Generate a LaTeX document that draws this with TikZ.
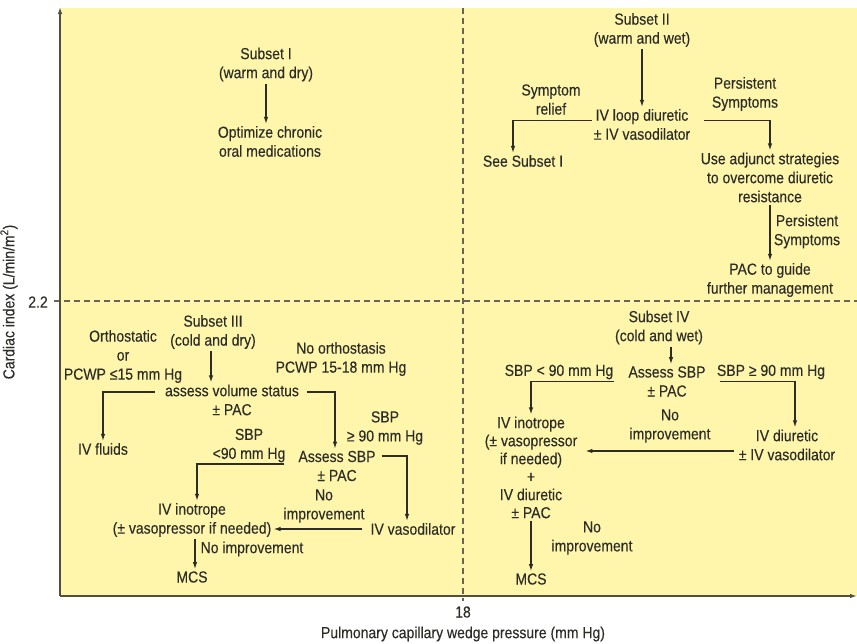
\documentclass[tikz,border=0pt]{standalone}
\usepackage{fontspec}
\setmainfont{Liberation Sans}[FakeStretch=0.875,FakeBold=0.25]
\usetikzlibrary{arrows.meta}
\definecolor{bgyellow}{RGB}{255,246,172}
\definecolor{ink}{RGB}{45,45,40}
\definecolor{axisc}{RGB}{80,80,60}
\definecolor{dashc}{RGB}{105,100,85}
\begin{document}
\begin{tikzpicture}[x=1pt,y=-1pt,
  txt/.style={align=center, inner sep=2pt, text=ink, font=\fontsize{16}{19}\selectfont},
  tight/.style={txt, font=\fontsize{16}{18}\selectfont},
  arr/.style={draw=ink, line width=1.2pt, -{Latex[length=7pt,width=4.5pt]}},
  axisline/.style={draw=axisc, line width=1.3pt, -{Latex[length=7pt,width=4.5pt]}},
  divider/.style={draw=dashc, line width=1.2pt, dash pattern=on 6pt off 4pt}]
\useasboundingbox (0,0) rectangle (857,643);
\fill[bgyellow] (60,8) rectangle (857,596);
% quadrant dividers
\draw[divider] (463,8) -- (463,601);
\draw[divider] (54,301) -- (857,301);
% axes
\draw[axisline] (60,596) -- (60,7);
\draw[axisline] (60,596) -- (857,596);
\node[txt] (tick22) at (38,302) {2.2};
\node[txt] (tick18) at (463,612) {18};
\node[txt, rotate=90] (ylab) at (9,302) {Cardiac index (L/min/m\textsuperscript{2})};
\node[txt] (xlab) at (463,634) {Pulmonary capillary wedge pressure (mm Hg)};

% Subset I
\node[txt] (s1) at (266,64.5) {Subset I\\(warm and dry)};
\node[txt] (o1) at (270,141.5) {Optimize chronic\\oral medications};
\draw[arr] (s1.south) -- (s1.south |- o1.north);

% Subset II
\node[txt] (s2) at (642,30) {Subset II\\(warm and wet)};
\node[txt] (iv2) at (642,124.5) {IV loop diuretic\\± IV vasodilator};
\node[txt] (sr) at (551,99.5) {Symptom\\relief};
\node[txt] (see) at (523,161) {See Subset I};
\node[txt] (ps1) at (745,94) {Persistent\\Symptoms};
\node[txt] (adj) at (770,177.5) {Use adjunct strategies\\to overcome diuretic\\resistance};
\node[txt] (ps2) at (807,231.5) {Persistent\\Symptoms};
\node[txt] (pac) at (770,280) {PAC to guide\\further management};
\draw[arr] (s2.south) -- (iv2.north);
\draw[arr] ([yshift=4pt]iv2.west) -| ([xshift=-10pt]see.north);
\draw[arr] ([xshift=12pt,yshift=4pt]iv2.east) -| (adj.north);
\draw[arr] (adj.south) -- (pac.north);

% Subset III
\node[txt] (s3) at (213,332) {Subset III\\(cold and dry)};
\node[txt] (orth) at (123,356.5) {Orthostatic\\or\\PCWP ≤15 mm Hg};
\node[txt] (noorth) at (341,359) {No orthostasis\\PCWP 15-18 mm Hg};
\node[txt] (avs) at (232,400) {assess volume status\\± PAC};
\node[txt] (ivf) at (103,449) {IV fluids};
\node[txt] (sbpge) at (385,428) {SBP\\≥ 90 mm Hg};
\node[txt] (asbp) at (337,466) {Assess SBP\\± PAC};
\node[txt] (sbplt) at (249,445.5) {SBP\\<90 mm Hg};
\node[txt] (ino3) at (192,520) {IV inotrope\\(± vasopressor if needed)};
\node[txt] (ni3) at (324,506) {No\\improvement};
\node[txt] (ivvd) at (413,529) {IV vasodilator};
\node[txt] (ni3b) at (252,549) {No improvement};
\node[txt] (mcs3) at (192,577) {MCS};
\draw[arr] ([xshift=-2pt]s3.south) -- ([xshift=-2pt]s3.south |- avs.north);
\draw[arr] ([xshift=-8pt,yshift=8pt]avs.west) -| (ivf.north);
\draw[arr] ([xshift=6pt,yshift=8pt]avs.east) -| ([xshift=-2pt]asbp.north);
\draw[arr] ([xshift=-12pt,yshift=2pt]asbp.west) -| ([xshift=5pt]ino3.north);
\draw[arr] ([xshift=4pt,yshift=10pt]asbp.east) -| ([xshift=-6pt]ivvd.north);
\draw[arr] ([xshift=-6pt]ivvd.west) -- (ivvd.west -| ino3.east);
\draw[arr] ([xshift=3pt]ino3.south) -- ([xshift=3pt]ino3.south |- mcs3.north);

% Subset IV
\node[txt] (s4) at (659,327.5) {Subset IV\\(cold and wet)};
\node[txt] (as4) at (667,381.5) {Assess SBP\\± PAC};
\node[txt] (lt4) at (559,372) {SBP < 90 mm Hg};
\node[txt] (ge4) at (771,372) {SBP ≥ 90 mm Hg};
\node[tight] (ino4) at (531,467.5) {IV inotrope\\(± vasopressor\\if needed)\\+\\IV diuretic\\± PAC};
\node[txt] (ivd4) at (787,445) {IV diuretic\\± IV vasodilator};
\node[txt] (ni4) at (670,426) {No\\improvement};
\node[txt] (ni4b) at (592,538) {No\\improvement};
\node[txt] (mcs4) at (531,579) {MCS};
\draw[arr] ([xshift=4pt]as4.north |- s4.south) -- ([xshift=4pt]as4.north);
\draw[arr] ([xshift=-12pt]as4.west) -| (ino4.north);
\draw[arr] ([xshift=12pt]as4.east) -| ([xshift=8pt]ivd4.north);
\draw[arr] ([xshift=-3pt,yshift=-6pt]ivd4.west) -- ([xshift=6pt,yshift=-6pt]ivd4.west -| ino4.east);
\draw[arr] (ino4.south) -- (mcs4.north);
\end{tikzpicture}
\end{document}
